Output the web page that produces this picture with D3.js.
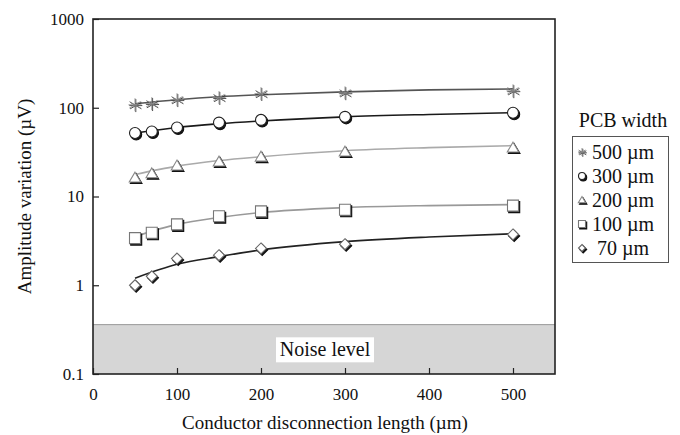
<!DOCTYPE html>
<html>
<head>
<meta charset="utf-8">
<script src="https://cdn.jsdelivr.net/npm/d3@7"></script>
<style>
  body { margin: 0; background: #fff; }
  svg text { fill: #111; }
</style>
</head>
<body>
<div class="chart"></div>
<script>
var svgWidth = 680;
var svgHeight = 435;

var margin = { top: 19, right: 125, bottom: 61, left: 93 };
var width = svgWidth - margin.left - margin.right;   // 462
var height = svgHeight - margin.top - margin.bottom; // 355

var serif = "'Liberation Serif', 'Times New Roman', serif";

// measured points
var xValues = [50, 70, 100, 150, 200, 300, 500];
var w500 = [108, 111, 123, 130, 144, 147, 155];
var w300 = [52, 54, 60, 68, 73, 79, 88];
var w200 = [16.3, 18.2, 22.3, 24.7, 28.1, 32, 35.5];
var w100 = [3.4, 3.9, 4.85, 6.0, 6.8, 7.1, 7.9];
var w70 = [1.0, 1.26, 2.0, 2.18, 2.6, 2.9, 3.74];

// trend lines
var fitX = [50, 100, 150, 200, 300, 400, 500];
var fit500 = [111, 123, 133, 140, 151, 159, 163];
var fit300 = [52, 60, 66, 71, 79, 84, 88];
var fit200 = [17.7, 22, 25.4, 28.1, 32.8, 35.5, 37.4];
var fit100 = [3.55, 4.85, 5.8, 6.6, 7.5, 7.9, 8.1];
var fit70 = [1.2, 1.72, 2.1, 2.5, 3.1, 3.5, 3.8];

var legendLabels = ["500 \u00b5m", "300 \u00b5m", "200 \u00b5m", "100 \u00b5m", " 70 \u00b5m"];
var xTicks = [0, 100, 200, 300, 400, 500];
var yTicks = [0.1, 1, 10, 100, 1000];
var noiseLevel = 0.36;

var series = [
  { name: legendLabels[0], pts: w500, fit: fit500, line: "#555", marker: "star" },
  { name: legendLabels[1], pts: w300, fit: fit300, line: "#1a1a1a", marker: "circle" },
  { name: legendLabels[2], pts: w200, fit: fit200, line: "#aaa", marker: "triangle" },
  { name: legendLabels[3], pts: w100, fit: fit100, line: "#999", marker: "square" },
  { name: legendLabels[4], pts: w70, fit: fit70, line: "#222", marker: "diamond" }
];

var svg = d3.select(".chart")
  .append("svg")
  .attr("width", svgWidth)
  .attr("height", svgHeight)
  .attr("font-family", serif);

var chartGroup = svg.append("g")
  .attr("transform", `translate(${margin.left}, ${margin.top})`);

var xScale = d3.scaleLinear().domain([0, 550]).range([0, width]);
var yScale = d3.scaleLog().domain([0.1, 1000]).range([height, 0]);

// noise band
chartGroup.append("rect")
  .attr("x", 0)
  .attr("y", yScale(noiseLevel))
  .attr("width", width)
  .attr("height", height - yScale(noiseLevel))
  .attr("fill", "#d6d6d6");
chartGroup.append("line")
  .attr("x1", 0).attr("x2", width)
  .attr("y1", yScale(noiseLevel)).attr("y2", yScale(noiseLevel))
  .attr("stroke", "#999").attr("stroke-width", 1);

var noiseY = (yScale(noiseLevel) + height) / 2;
chartGroup.append("rect")
  .attr("x", width / 2 - 48)
  .attr("y", noiseY - 12)
  .attr("width", 98)
  .attr("height", 25)
  .attr("fill", "#fff");
chartGroup.append("text")
  .attr("x", width / 2 + 1)
  .attr("y", noiseY + 7)
  .attr("text-anchor", "middle")
  .attr("font-size", "20px")
  .attr("font-family", serif)
  .text("Noise level");

// axes, ticks pointing inward
var bottomAxis = d3.axisBottom(xScale).tickValues(xTicks).tickSize(-6).tickPadding(14).tickFormat(d3.format("d"));
var leftAxis = d3.axisLeft(yScale).tickValues(yTicks).tickSize(-6).tickPadding(9).tickFormat(d => String(d));

var xAxis = chartGroup.append("g")
  .attr("transform", `translate(0, ${height})`)
  .call(bottomAxis);
var yAxis = chartGroup.append("g").call(leftAxis);

[xAxis, yAxis].forEach(function(ax) {
  ax.attr("font-family", serif);
  ax.select(".domain").remove();
  ax.selectAll("line").attr("stroke", "#222").attr("stroke-width", 1.2);
  ax.selectAll("text").attr("font-size", "17px").attr("font-family", serif).attr("fill", "#111");
});

// frame
chartGroup.append("rect")
  .attr("width", width)
  .attr("height", height)
  .attr("fill", "none")
  .attr("stroke", "#222")
  .attr("stroke-width", 1.6);

// axis titles
svg.append("text")
  .attr("x", margin.left + width / 2 + 1)
  .attr("y", 429)
  .attr("text-anchor", "middle")
  .attr("font-size", "19px")
  .attr("font-family", serif)
  .text("Conductor disconnection length (\u00b5m)");

svg.append("text")
  .attr("transform", `translate(31, ${margin.top + height / 2}) rotate(-90)`)
  .attr("text-anchor", "middle")
  .attr("font-size", "19px")
  .attr("font-family", serif)
  .text("Amplitude variation (\u00b5V)");

// marker drawing
function drawMarker(g, type, s, color) {
  var r = s / 2;
  if (type === "star") {
    var d = `M0,${-r}L0,${r}M${-r * 0.87},${-r * 0.5}L${r * 0.87},${r * 0.5}M${-r * 0.87},${r * 0.5}L${r * 0.87},${-r * 0.5}M${-r},0L${r},0`;
    g.append("path").attr("d", d).attr("transform", "translate(0.8,0.8)").attr("stroke", "#333").attr("stroke-width", 0.9);
    g.append("path").attr("d", d).attr("stroke", "#888").attr("stroke-width", 0.9);
    return;
  }
  var sym;
  if (type === "circle") sym = d3.symbol().type(d3.symbolCircle).size(Math.PI * r * r)();
  else if (type === "triangle") sym = `M0,${-r}L${r * 1.05},${r * 0.8}L${-r * 1.05},${r * 0.8}Z`;
  else if (type === "square") sym = `M${-r},${-r}L${r},${-r}L${r},${r}L${-r},${r}Z`;
  else sym = `M0,${-r}L${r},0L0,${r}L${-r},0Z`;
  g.append("path").attr("d", sym).attr("transform", "translate(1.2,1.5)")
    .attr("fill", "#111").attr("stroke", "#111").attr("stroke-width", 1.1);
  g.append("path").attr("d", sym)
    .attr("fill", "#fff").attr("stroke", color).attr("stroke-width", 1.1);
}

var markerColor = { star: "#888", circle: "#222", triangle: "#888", square: "#777", diamond: "#666" };

var lineGen = d3.line()
  .x(d => xScale(d[0]))
  .y(d => yScale(d[1]))
  .curve(d3.curveMonotoneX);

series.forEach(function(s) {
  chartGroup.append("path")
    .datum(fitX.map((x, i) => [x, s.fit[i]]))
    .attr("d", lineGen)
    .attr("fill", "none")
    .attr("stroke", s.line)
    .attr("stroke-width", 1.6);

  xValues.forEach(function(x, i) {
    var g = chartGroup.append("g")
      .attr("transform", `translate(${xScale(x)}, ${yScale(s.pts[i])})`);
    drawMarker(g, s.marker, s.marker === "star" ? 13 : 11, markerColor[s.marker]);
  });
});

// legend
var legend = svg.append("g");
legend.append("text")
  .attr("x", 623)
  .attr("y", 127)
  .attr("text-anchor", "middle")
  .attr("font-size", "20px")
  .attr("font-family", serif)
  .text("PCB width");
legend.append("rect")
  .attr("x", 572.5)
  .attr("y", 136.5)
  .attr("width", 96)
  .attr("height", 126)
  .attr("fill", "#fff")
  .attr("stroke", "#555")
  .attr("stroke-width", 1);

series.forEach(function(s, i) {
  var cy = 152 + i * 24;
  var g = legend.append("g").attr("transform", `translate(582, ${cy})`);
  drawMarker(g, s.marker, s.marker === "star" ? 8 : 7, markerColor[s.marker]);
  legend.append("text")
    .attr("x", 592)
    .attr("y", cy + 7)
    .attr("font-size", "20px")
    .attr("font-family", serif)
    .attr("xml:space", "preserve")
    .text(s.name);
});
</script>
</body>
</html>
